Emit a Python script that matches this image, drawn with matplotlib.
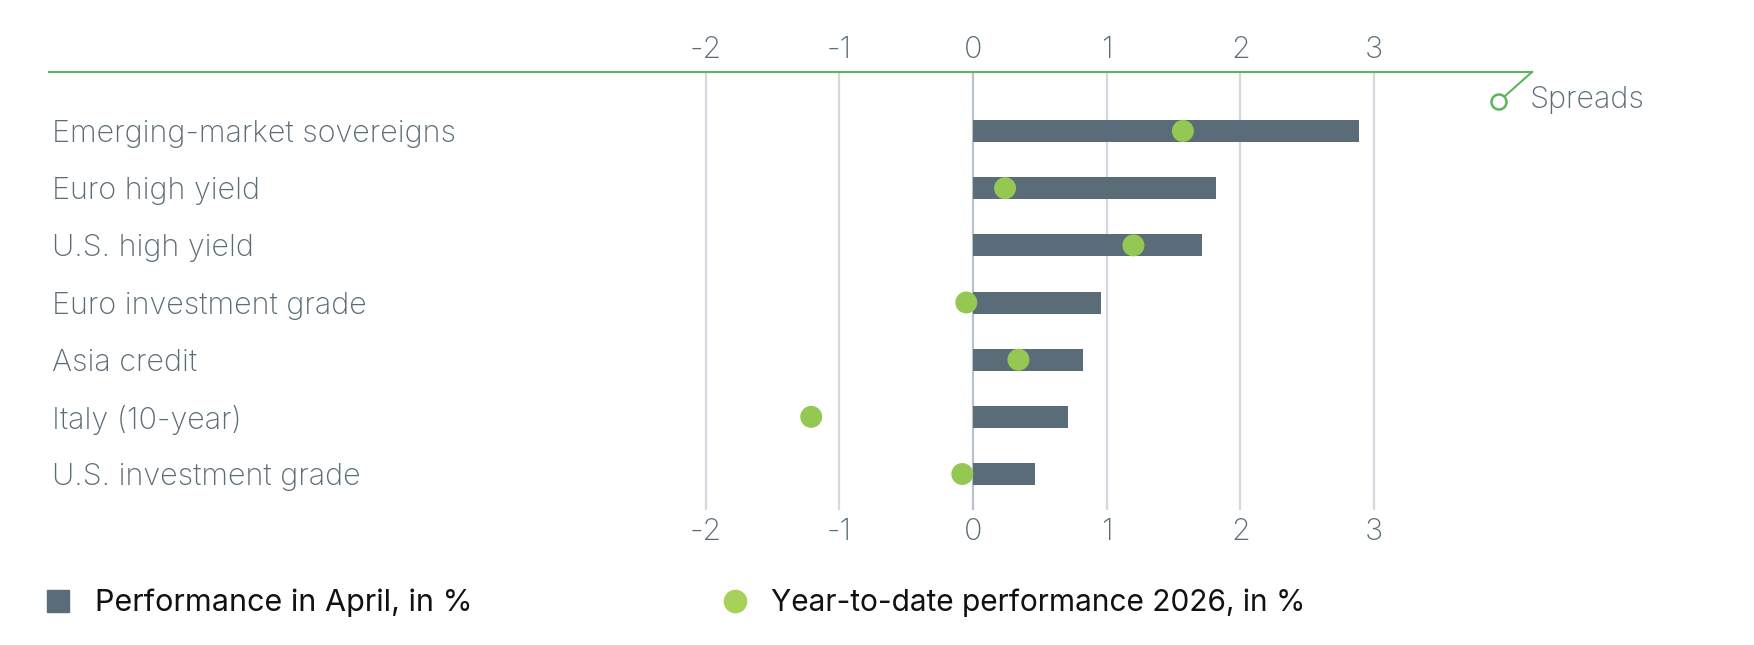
import matplotlib.pyplot as plt
from matplotlib.lines import Line2D
from matplotlib.patches import Ellipse

# --- Data ---
categories = ["Emerging-market sovereigns", "Euro high yield", "U.S. high yield",
              "Euro investment grade", "Asia credit", "Italy (10-year)",
              "U.S. investment grade"]
april_perf = [2.89, 1.82, 1.71, 0.96, 0.82, 0.71, 0.46]
ytd_perf = [1.57, 0.24, 1.20, -0.05, 0.34, -1.21, -0.08]
xticks = [-2, -1, 0, 1, 2, 3]

# --- Style ---
bar_col = "#5a6c77"
dot_col = "#95c852"
line_col = "#5cb55c"
grid_col = "#d2d9e1"
zero_col = "#b9c1c9"
text_col = "#5a6c77"
FONT = ["Inter", "DejaVu Sans"]
FS = 22
plt.rcParams["font.family"] = FONT

W, H = 1754, 645
fig = plt.figure(figsize=(W / 100, H / 100), dpi=100)

# axes placed in pixel terms: left 49, right 1532, top 72, bottom 510
ax = fig.add_axes([49 / W, 1 - 510 / H, (1532 - 49) / W, (510 - 72) / H])
x0, unit = 973, 133.7
ax.set_xlim((49 - x0) / unit, (1532 - x0) / unit)
row0, step = 131, 57.17
ax.set_ylim((510 - row0) / step, (72 - row0) / step)

ypos = list(range(len(categories)))

for t in xticks:
    ax.axvline(t, color=zero_col if t == 0 else grid_col, lw=1.6, zorder=1)

ax.barh(ypos, april_perf, height=0.385, color=bar_col, zorder=2)
ax.scatter(ytd_perf, ypos, s=250, color=dot_col, edgecolors="none", zorder=3)

for y, name in zip(ypos, categories):
    ax.text(0.002, y, name, transform=ax.get_yaxis_transform(), ha="left",
            va="center_baseline", fontsize=FS, color=text_col, fontweight="light")

ax.set_xticks(xticks)
ax.set_xticklabels([str(t) for t in xticks])
ax.set_yticks([])
ax.tick_params(axis="x", length=0, labeltop=True, labelbottom=True,
               labelsize=FS, labelcolor=text_col, pad=6)
for lab in ax.get_xticklabels():
    lab.set_fontweight("light")

for side in ["left", "right", "bottom"]:
    ax.spines[side].set_visible(False)
ax.spines["top"].set_color(line_col)
ax.spines["top"].set_linewidth(1.5)

# "Spreads" marker: diagonal and hollow circle
tf = fig.transFigure
fig.add_artist(Line2D([1532 / W, 1505 / W], [1 - 72 / H, 1 - 96 / H],
                      transform=tf, color=line_col, lw=1.5))
fig.add_artist(Ellipse((1499 / W, 1 - 102 / H), 15 / W, 15 / H, transform=tf,
                       fill=False, ec=line_col, lw=1.8))
fig.text(1530 / W, 1 - 108 / H, "Spreads", ha="left", va="baseline",
         fontsize=FS, color=text_col, fontweight="light")

# --- Legend ---
h1 = Line2D([], [], marker="s", ls="none", color=bar_col, markersize=16)
h2 = Line2D([], [], marker="o", ls="none", color="#a8d15a", markersize=16)
leg1 = fig.legend([h1], ["Performance in April, in %"], loc="center left",
                  bbox_to_anchor=(46 / W, 1 - 603 / H), frameon=False,
                  borderpad=0, borderaxespad=0, handlelength=0.8,
                  handletextpad=0.8, prop={"size": FS, "family": FONT})
leg2 = fig.legend([h2], ["Year-to-date performance 2026, in %"], loc="center left",
                  bbox_to_anchor=(723 / W, 1 - 603 / H), frameon=False,
                  borderpad=0, borderaxespad=0, handlelength=0.8,
                  handletextpad=0.8, prop={"size": FS - 0.5, "family": FONT})
for lg in (leg1, leg2):
    for tx in lg.get_texts():
        tx.set_color("#111111")

fig.savefig("out.png", dpi=100)
